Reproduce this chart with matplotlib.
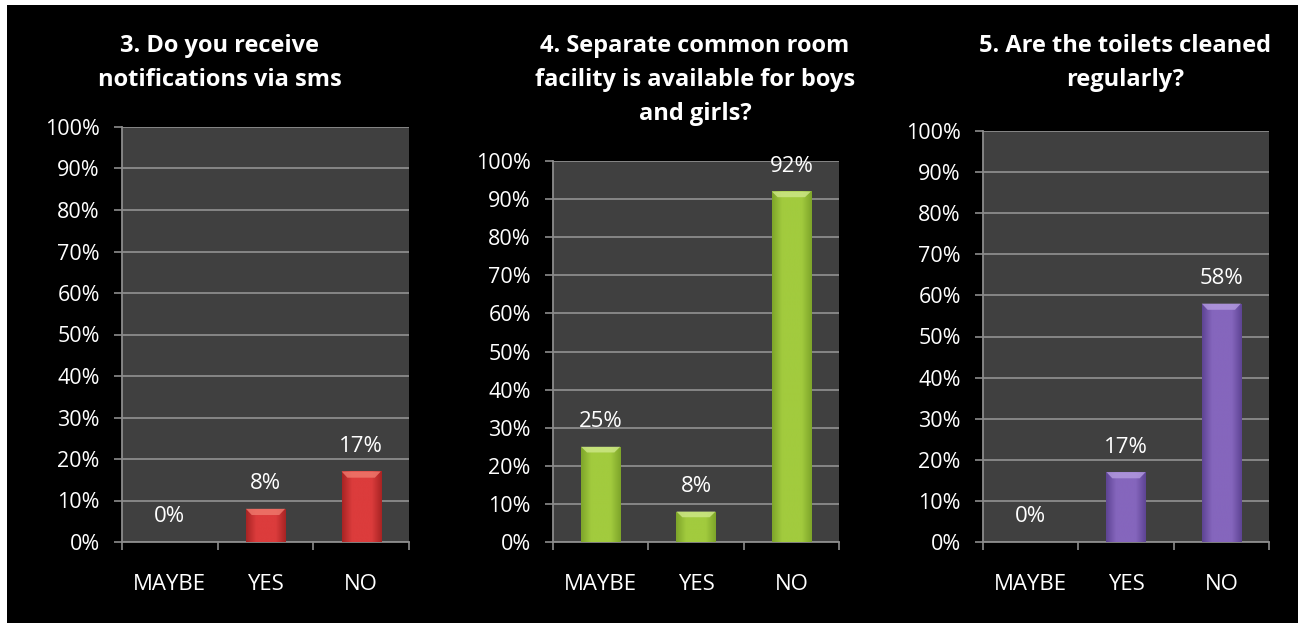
# Three survey bar charts on a black slide background

import numpy as np
import matplotlib.pyplot as plt
from matplotlib.patches import Rectangle, Polygon
from matplotlib.colors import LinearSegmentedColormap

categories = ["MAYBE", "YES", "NO"]
sms_values = [0, 8, 17]
common_room_values = [25, 8, 92]
toilets_values = [0, 17, 58]
titles = ["3. Do you receive\nnotifications via sms",
          "4. Separate common room\nfacility is available for boys\nand girls?",
          "5. Are the toilets cleaned\nregularly?"]
yticks = list(range(0, 101, 10))

# (dark edge, centre, bevel highlight) for each panel's bars
bar_colors = [("#a82424", "#dc3c3c", "#f07a6e"),
              ("#7ea52a", "#a2cb3e", "#cfe88a"),
              ("#5e4494", "#8566bd", "#b49ce0")]

W, H = 1299, 623
plt.rcParams['font.family'] = ['Open Sans', 'DejaVu Sans']

fig = plt.figure(figsize=(W / 100, H / 100), dpi=100)
fig.patch.set_facecolor("white")
fig.patches.append(Rectangle((7 / W, 0), (1298 - 7) / W, 1 - 5 / H,
                             transform=fig.transFigure, facecolor="black",
                             edgecolor="none", zorder=-10))


def px_axes(l, t, r, b):
    return fig.add_axes([l / W, 1 - b / H, (r - l) / W, (b - t) / H])


def gradient_bar(ax, rect, dark, mid, light):
    cmap = LinearSegmentedColormap.from_list("g", [dark, mid, mid, mid, dark])
    grad = np.linspace(0, 1, 64).reshape(1, -1)
    x0, y0 = rect.get_x(), rect.get_y()
    w, h = rect.get_width(), rect.get_height()
    if h <= 0:
        return
    im = ax.imshow(grad, cmap=cmap, aspect="auto", extent=(x0, x0 + w, y0, y0 + h),
                   zorder=3, interpolation="bicubic")
    im.set_clip_path(rect)
    # bevelled highlight on top of the bar
    cap = min(h * 0.5, 1.5)
    ax.add_patch(Polygon([(x0, y0 + h), (x0 + w, y0 + h),
                          (x0 + w * 0.85, y0 + h - cap), (x0 + w * 0.15, y0 + h - cap)],
                         closed=True, facecolor=light, edgecolor="none", alpha=0.8, zorder=4))


panels = [(122, 127, 409, 542), (553, 161, 839, 542), (983, 131, 1269, 542)]
title_pos = [(220, 34), (695, 34), (1125, 34)]
all_values = [sms_values, common_room_values, toilets_values]

for i, (box, values) in enumerate(zip(panels, all_values)):
    ax = px_axes(*box)
    ax.set_facecolor("#404040")
    x = np.arange(len(categories))
    bars = ax.bar(x, values, width=0.41, color=bar_colors[i][1], zorder=2)
    for b in bars:
        gradient_bar(ax, b, *bar_colors[i])
        b.set_facecolor("none")

    ax.set_xlim(-0.5, 2.5)
    ax.set_ylim(0, 100)
    ax.set_yticks(yticks)
    ax.set_yticklabels([f"{v}%" for v in yticks])
    ax.set_xticks(x)
    ax.set_xticklabels(categories)
    ax.set_xticks([-0.5, 0.5, 1.5, 2.5], minor=True)
    ax.tick_params(axis="x", which="major", length=0, pad=23, labelsize=16, labelcolor="white")
    ax.tick_params(axis="x", which="minor", length=6, width=1.2, color="#8c8c8c")
    ax.tick_params(axis="y", length=6, width=1.2, color="#8c8c8c", pad=10,
                   labelsize=15.5, labelcolor="white")
    ax.grid(axis="y", color="#8c8c8c", linewidth=1.3, zorder=1)
    ax.set_axisbelow(True)
    for s in ["top", "right"]:
        ax.spines[s].set_visible(False)
    for s in ["left", "bottom"]:
        ax.spines[s].set_color("#8c8c8c")
        ax.spines[s].set_linewidth(1.3)

    for xi, v in zip(x, values):
        ax.annotate(f"{v}%", (xi, v), xytext=(0, 18), textcoords="offset points",
                    ha="center", va="center", color="white", fontsize=16)

    tx, ty = title_pos[i]
    fig.text(tx / W, 1 - ty / H, titles[i], ha="center", va="top", color="white",
             fontsize=17, fontweight="bold", linespacing=1.55)

fig.savefig("out.png", dpi=100, facecolor=fig.get_facecolor())
